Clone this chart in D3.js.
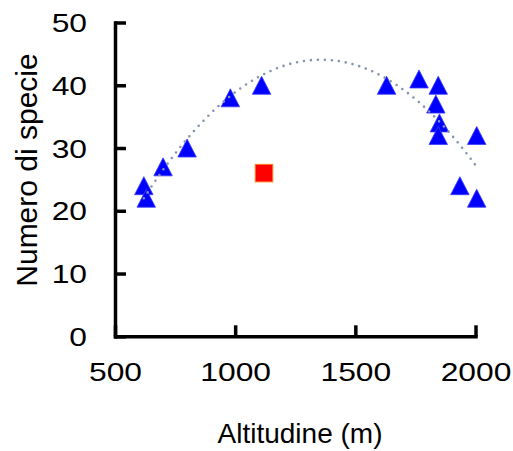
<!DOCTYPE html>
<html>
<head>
<meta charset="utf-8">
<script src="https://cdn.jsdelivr.net/npm/d3@7"></script>
<style>
  html, body { margin: 0; padding: 0; background: #fff; }
  svg { display: block; font-family: "Liberation Sans", Arial, sans-serif; }
</style>
</head>
<body>
<svg id="chart" width="513" height="451"></svg>
<script>
// Altitude (m) of each sampled site and number of species found there
const altitudine = [620, 630, 700, 800, 980, 1110, 1630, 1765, 1845, 1835, 1850, 1845, 2005, 1935, 2005];
const numeroSpecie = [24, 22, 27, 30, 38, 40, 40, 41, 40, 37, 34, 32, 32, 24, 22];

// Separate site shown as a red square (not part of the trend)
const altitudineExtra = [1120];
const numeroSpecieExtra = [26];

const xTicks = [500, 1000, 1500, 2000];
const yTicks = [0, 10, 20, 30, 40, 50];

const svg = d3.select("#chart");

const x = d3.scaleLinear().domain([500, 2000]).range([115, 475.5]);
const y = d3.scaleLinear().domain([0, 50]).range([336.3, 22.5]);

const tickFont = 26.5;
const stretch = 1.2;

// Axes with inward ticks
const xAxis = svg.append("g")
  .attr("transform", `translate(0,${y(0)})`)
  .call(d3.axisBottom(x).tickValues(xTicks).tickFormat(d3.format("d"))
    .tickSizeInner(-11).tickSizeOuter(0).tickPadding(0));

const yAxis = svg.append("g")
  .attr("transform", `translate(${x(500)},0)`)
  .call(d3.axisLeft(y).tickValues(yTicks).tickFormat(d3.format("d"))
    .tickSizeInner(-11).tickSizeOuter(0).tickPadding(0));

[xAxis, yAxis].forEach(g => {
  g.select(".domain").attr("stroke", "#000").attr("stroke-width", 3.5).attr("stroke-linecap", "square");
  g.selectAll(".tick line").attr("stroke", "#000").attr("stroke-width", 3.5);
  g.selectAll(".tick text")
    .attr("fill", "#000")
    .attr("font-size", tickFont)
    .attr("font-family", "Liberation Sans, Arial, sans-serif");
});

xAxis.selectAll(".tick text")
  .attr("y", 44.4)
  .attr("dy", null)
  .attr("transform", `scale(${stretch},1)`);

yAxis.selectAll(".tick text")
  .attr("x", -28 / stretch)
  .attr("dy", "0.34em")
  .attr("transform", `scale(${stretch},1)`);

// Axis titles
svg.append("text")
  .attr("x", 300)
  .attr("y", 443)
  .attr("text-anchor", "middle")
  .attr("font-size", 28)
  .attr("fill", "#000")
  .text("Altitudine (m)");

svg.append("text")
  .attr("transform", "translate(37,170) rotate(-90)")
  .attr("text-anchor", "middle")
  .attr("font-size", 30)
  .attr("fill", "#000")
  .text("Numero di specie");

// Markers
const triW = 18.5, triH = 18;
const triangle = `M0,${-triH / 2}L${triW / 2},${triH / 2}L${-triW / 2},${triH / 2}Z`;

svg.append("g").selectAll("path")
  .data(altitudine.map((a, i) => [a, numeroSpecie[i]]))
  .join("path")
  .attr("d", triangle)
  .attr("transform", d => `translate(${x(d[0])},${y(d[1])})`)
  .attr("fill", "#0000ff")
  .attr("stroke", "#3b3bff")
  .attr("stroke-width", 0.8);

const sq = 17.5;
svg.append("g").selectAll("rect")
  .data(altitudineExtra.map((a, i) => [a, numeroSpecieExtra[i]]))
  .join("rect")
  .attr("x", d => x(d[0]) - sq / 2)
  .attr("y", d => y(d[1]) - sq / 2)
  .attr("width", sq)
  .attr("height", sq)
  .attr("fill", "#ff0000")
  .attr("stroke", "#ff7a1a")
  .attr("stroke-width", 1);

// Second-order polynomial trendline (least squares) through the triangle sites
function quadFit(xs, ys) {
  const x0 = d3.mean(xs), s = 1000;
  const t = xs.map(v => (v - x0) / s);
  const S = k => d3.sum(t, v => Math.pow(v, k));
  const Sy = k => d3.sum(t, (v, i) => Math.pow(v, k) * ys[i]);
  const A = [[S(0), S(1), S(2)], [S(1), S(2), S(3)], [S(2), S(3), S(4)]];
  const B = [Sy(0), Sy(1), Sy(2)];
  // Gaussian elimination
  for (let i = 0; i < 3; i++) {
    for (let j = i + 1; j < 3; j++) {
      const f = A[j][i] / A[i][i];
      for (let k = i; k < 3; k++) A[j][k] -= f * A[i][k];
      B[j] -= f * B[i];
    }
  }
  const c = [0, 0, 0];
  for (let i = 2; i >= 0; i--) {
    let v = B[i];
    for (let k = i + 1; k < 3; k++) v -= A[i][k] * c[k];
    c[i] = v / A[i][i];
  }
  return v => { const u = (v - x0) / s; return c[0] + c[1] * u + c[2] * u * u; };
}

const fit = quadFit(altitudine, numeroSpecie);
const [xmin, xmax] = d3.extent(altitudine);
const trendX = d3.range(0, 201).map(i => xmin + (xmax - xmin) * i / 200);

svg.append("path")
  .datum(trendX)
  .attr("d", d3.line().x(v => x(v)).y(v => y(fit(v))))
  .attr("fill", "none")
  .attr("stroke", "#8395ae")
  .attr("stroke-width", 2.6)
  .attr("stroke-linecap", "round")
  .attr("stroke-dasharray", "0,7");
</script>
</body>
</html>
